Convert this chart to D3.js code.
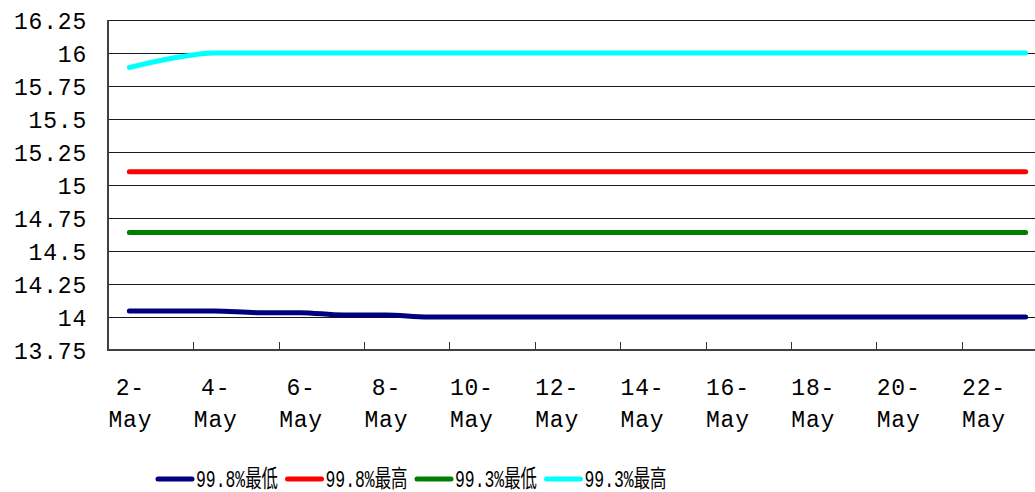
<!DOCTYPE html>
<html>
<head>
<meta charset="utf-8">
<script src="https://cdn.jsdelivr.net/npm/d3@7"></script>
<style>
	body { margin: 0; background: #fff; }
	svg { display: block; }
	.lbl { font-family: "Liberation Mono", "DejaVu Sans Mono", monospace; font-size: 23px; fill: #000; letter-spacing: 0.8px; }
	.leg { font-family: "Liberation Mono", "Noto Sans CJK SC", monospace; font-size: 24px; fill: #000; }
</style>
</head>
<body>
<div class="chart"></div>
<script>
// dates on the category axis
var dates = ['2-May', '3-May', '4-May', '5-May', '6-May', '7-May', '8-May', '9-May', '10-May', '11-May', '12-May',
	'13-May', '14-May', '15-May', '16-May', '17-May', '18-May', '19-May', '20-May', '21-May', '22-May', '23-May'];

// 99.8%最低
var low998 = [14.045, 14.045, 14.045, 14.033, 14.033, 14.015, 14.015, 14, 14, 14, 14,
	14, 14, 14, 14, 14, 14, 14, 14, 14, 14, 14];
// 99.8%最高
var high998 = [15.1, 15.1, 15.1, 15.1, 15.1, 15.1, 15.1, 15.1, 15.1, 15.1, 15.1,
	15.1, 15.1, 15.1, 15.1, 15.1, 15.1, 15.1, 15.1, 15.1, 15.1, 15.1];
// 99.3%最低
var low993 = [14.64, 14.64, 14.64, 14.64, 14.64, 14.64, 14.64, 14.64, 14.64, 14.64, 14.64,
	14.64, 14.64, 14.64, 14.64, 14.64, 14.64, 14.64, 14.64, 14.64, 14.64, 14.64];
// 99.3%最高
var high993 = [15.89, 15.96, 16, 16, 16, 16, 16, 16, 16, 16, 16,
	16, 16, 16, 16, 16, 16, 16, 16, 16, 16, 16];

var yTicks = [13.75, 14, 14.25, 14.5, 14.75, 15, 15.25, 15.5, 15.75, 16, 16.25];
var seriesNames = ['99.8%最低', '99.8%最高', '99.3%最低', '99.3%最高'];
var seriesColors = ['#000080', '#ff0000', '#008000', '#00ffff'];
var seriesData = [low998, high998, low993, high993];

var W = 1035, H = 492;
var pl = 108, pr = 1047, pt = 20, pb = 350;

var svg = d3.select('.chart')
	.append('svg')
	.attr('width', W)
	.attr('height', H);

var x = d3.scaleBand()
	.domain(dates)
	.range([pl, pr])
	.padding(0);
var bw = x.bandwidth();

var y = d3.scaleLinear()
	.domain([13.75, 16.25])
	.range([pb, pt]);

// gridlines
svg.append('g')
	.selectAll('line')
	.data(yTicks.slice(1))
	.enter()
	.append('line')
	.attr('x1', pl)
	.attr('x2', pr)
	.attr('y1', function (d) { return Math.round(y(d)) + 0.5; })
	.attr('y2', function (d) { return Math.round(y(d)) + 0.5; })
	.attr('stroke', '#1a1a1a')
	.attr('stroke-width', 1);

// y labels
svg.append('g')
	.selectAll('text')
	.data(yTicks)
	.enter()
	.append('text')
	.attr('class', 'lbl')
	.attr('x', 87)
	.attr('y', function (d) { return y(d) + 3; })
	.attr('text-anchor', 'end')
	.attr('dominant-baseline', 'central')
	.text(function (d) { return String(d); });

// x ticks every 2 categories
var tickDates = dates.filter(function (d, i) { return i > 0 && i % 2 == 0; });
svg.append('g')
	.selectAll('line')
	.data(tickDates)
	.enter()
	.append('line')
	.attr('x1', function (d) { return Math.round(x(d)) + 0.5; })
	.attr('x2', function (d) { return Math.round(x(d)) + 0.5; })
	.attr('y1', pb)
	.attr('y2', pb - 8)
	.attr('stroke', '#333')
	.attr('stroke-width', 1);

// x labels, two lines
var labelDates = dates.filter(function (d, i) { return i % 2 == 0; });
var xl = svg.append('g')
	.selectAll('text')
	.data(labelDates)
	.enter()
	.append('text')
	.attr('class', 'lbl')
	.attr('text-anchor', 'middle');
xl.append('tspan')
	.attr('x', function (d) { return x(d) + bw / 2 + 1; })
	.attr('y', 395)
	.text(function (d) { return d.split('-')[0] + '-'; });
xl.append('tspan')
	.attr('x', function (d) { return x(d) + bw / 2 + 1; })
	.attr('y', 427)
	.text(function (d) { return d.split('-')[1]; });

// axes lines
svg.append('line')
	.attr('x1', pl).attr('x2', pl)
	.attr('y1', pt).attr('y2', pb + 1)
	.attr('stroke', '#404040')
	.attr('stroke-width', 2);
svg.append('line')
	.attr('x1', pl).attr('x2', pr)
	.attr('y1', pb).attr('y2', pb)
	.attr('stroke', '#404040')
	.attr('stroke-width', 2);

// series lines
var line = d3.line()
	.x(function (d, i) { return x(dates[i]) + bw / 2; })
	.y(function (d) { return y(d); })
	.curve(d3.curveMonotoneX);

svg.append('g')
	.selectAll('path')
	.data(seriesData)
	.enter()
	.append('path')
	.attr('d', function (d) { return line(d); })
	.attr('fill', 'none')
	.attr('stroke', function (d, i) { return seriesColors[i]; })
	.attr('stroke-width', 5)
	.attr('stroke-linecap', 'round')
	.attr('stroke-linejoin', 'round');

// legend
var leg = svg.append('g')
	.selectAll('g')
	.data(seriesNames)
	.enter()
	.append('g')
	.attr('transform', function (d, i) { return 'translate(' + (158 + i * 129.5) + ',479)'; });
leg.append('line')
	.attr('x1', 0).attr('x2', 34)
	.attr('y1', 0).attr('y2', 0)
	.attr('stroke', function (d, i) { return seriesColors[i]; })
	.attr('stroke-width', 5)
	.attr('stroke-linecap', 'round');
leg.append('text')
	.attr('class', 'leg')
	.attr('x', 38)
	.attr('y', 1)
	.attr('dominant-baseline', 'central')
	.attr('textLength', 82)
	.attr('lengthAdjust', 'spacingAndGlyphs')
	.text(function (d) { return d; });
</script>
</body>
</html>
